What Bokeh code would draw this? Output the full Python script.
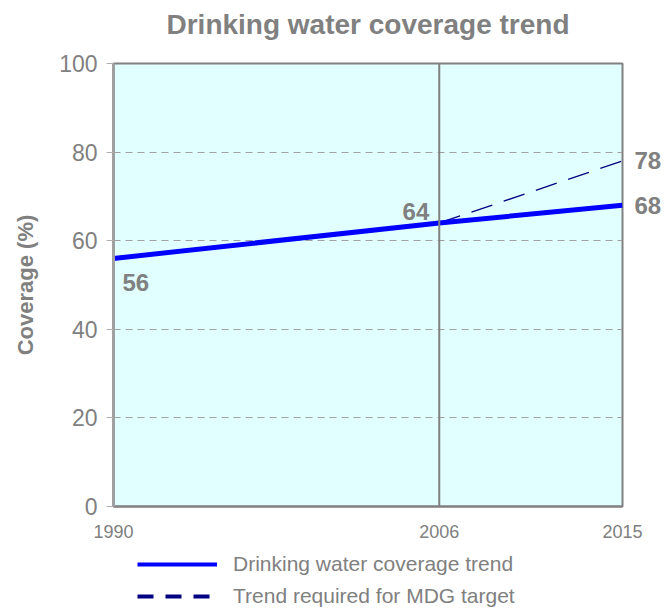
from bokeh.plotting import figure
from bokeh.layouts import column
from bokeh.models import Label, Span, Legend, LegendItem, FixedTicker, Range1d, LinearAxis, Title
from bokeh.embed import file_html
from bokeh.resources import INLINE

# data
years = [1990, 2006, 2015]
coverage = [56, 64, 68]
target_years = [2006, 2015]
target_coverage = [64, 78]
y_ticks = [0, 20, 40, 60, 80, 100]
split_year = 2006
series_names = ["Drinking water coverage trend", "Trend required for MDG target"]

GRAY = "#808080"
FONT = "Liberation Sans"

p = figure(width=664, height=546, output_backend="svg", toolbar_location=None,
           x_range=Range1d(years[0], years[-1]), y_range=Range1d(0, 100),
           min_border_left=113, min_border_right=41, min_border_top=63, min_border_bottom=40,
           background_fill_color="#E2FFFF", border_fill_color="white")

p.title.text = "Drinking water coverage trend"
p.title.align = "center"
p.title.text_font = FONT
p.title.text_font_size = "28px"
p.title.text_font_style = "bold"
p.title.text_color = GRAY
p.title.offset = 0
p.title.standoff = 0

# blank spacer between title and frame
p.add_layout(Title(text=" ", text_font_size="20px", standoff=0), "above")

p.outline_line_color = GRAY
p.outline_line_width = 2

# y axis
p.yaxis.ticker = FixedTicker(ticks=y_ticks)
p.yaxis.axis_label = "Coverage (%)"
p.yaxis.axis_label_text_font = FONT
p.yaxis.axis_label_text_font_size = "22px"
p.yaxis.axis_label_text_font_style = "bold"
p.yaxis.axis_label_text_color = GRAY
p.yaxis.major_label_text_font = FONT
p.yaxis.major_label_text_font_size = "23px"
p.yaxis.major_label_text_color = GRAY
p.yaxis.axis_line_color = "#a0a0a0"
p.yaxis.axis_line_width = 3
p.yaxis.major_tick_line_color = "#b0b0b0"
p.yaxis.major_tick_in = 0
p.yaxis.major_tick_out = 7
p.yaxis.minor_tick_line_color = None
p.yaxis.major_label_standoff = 9
p.yaxis.axis_label_standoff = 18

# right-side end-value labels (as an axis so they sit outside the frame)
end_values = [coverage[-1], target_coverage[-1]]
right = LinearAxis(ticker=FixedTicker(ticks=end_values),
                   major_label_overrides={v: str(v) for v in end_values},
                   axis_line_color=None, major_tick_line_color=None, minor_tick_line_color=None,
                   major_tick_in=0, major_tick_out=0,
                   major_label_text_font=FONT, major_label_text_font_size="24px",
                   major_label_text_font_style="bold", major_label_text_color=GRAY,
                   major_label_standoff=12)
p.add_layout(right, "right")

# x axis
p.xaxis.ticker = FixedTicker(ticks=years)
p.xaxis.major_label_text_font = FONT
p.xaxis.major_label_text_font_size = "18px"
p.xaxis.major_label_text_color = GRAY
p.xaxis.axis_line_color = GRAY
p.xaxis.axis_line_width = 2
p.xaxis.major_tick_line_color = None
p.xaxis.minor_tick_line_color = None
p.xaxis.major_label_standoff = 12

p.xgrid.grid_line_color = None
p.ygrid.ticker = FixedTicker(ticks=y_ticks[1:-1])
p.ygrid.grid_line_color = "#a0a0a0"
p.ygrid.grid_line_dash = "7 5"
p.ygrid.grid_line_width = 1

p.add_layout(Span(location=split_year, dimension="height", line_color=GRAY, line_width=2))

r_target = p.line(target_years, target_coverage, line_color="#000080", line_width=1.3, line_dash="22 12")
r_cov = p.line(years, coverage, line_color="#0000FF", line_width=5)

# value labels inside the frame
lab_style = dict(text_font=FONT, text_font_size="24px", text_font_style="bold", text_color=GRAY)
p.add_layout(Label(x=years[0], y=coverage[0], text=str(coverage[0]), x_offset=9, y_offset=-16,
                   text_align="left", text_baseline="top", **lab_style))
p.add_layout(Label(x=years[1], y=coverage[1], text=str(coverage[1]), x_offset=-10, y_offset=3,
                   text_align="right", text_baseline="bottom", **lab_style))

# legend panel (proxy lines fall outside this panel's range, only their legend glyphs show)
lg = figure(width=664, height=62, output_backend="svg", toolbar_location=None,
            x_range=Range1d(0, 1), y_range=Range1d(0, 1),
            x_axis_location=None, y_axis_location=None,
            min_border=0, outline_line_color=None, border_fill_color="white",
            background_fill_color="white")
lg.xgrid.grid_line_color = None
lg.ygrid.grid_line_color = None
lg_cov = lg.line(years, coverage, line_color="#0000FF", line_width=4)
lg_tgt = lg.line(target_years, target_coverage, line_color="#000080", line_width=4, line_dash="16 12")

legend = Legend(items=[LegendItem(label=series_names[0], renderers=[lg_cov]),
                       LegendItem(label=series_names[1], renderers=[lg_tgt])],
                location=(24, 0), orientation="vertical",
                glyph_width=80, glyph_height=20, label_standoff=16, spacing=8,
                label_text_font=FONT, label_text_font_size="21px", label_text_color=GRAY,
                border_line_color=None, background_fill_alpha=0, padding=0, margin=0)
lg.add_layout(legend)

layout = column(p, lg, spacing=0)
open("out.html", "w").write(file_html(layout, INLINE))
